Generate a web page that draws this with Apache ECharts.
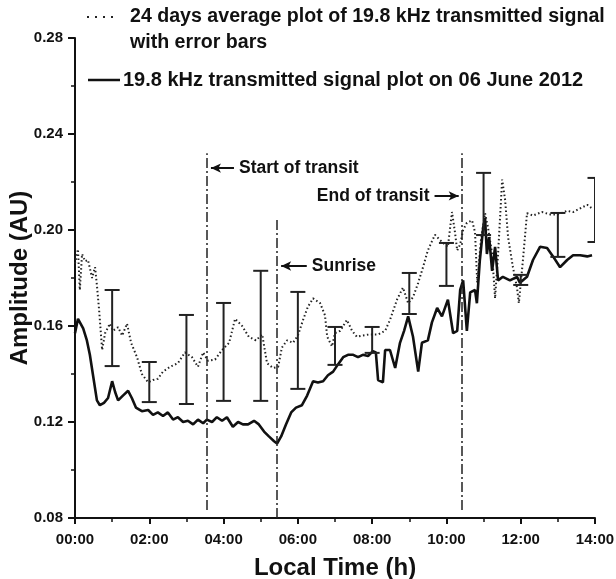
<!DOCTYPE html>
<html>
<head>
<meta charset="utf-8">
<script src="https://cdn.jsdelivr.net/npm/echarts/dist/echarts.min.js"></script>
<style>
html,body{margin:0;padding:0;background:#fff;}
#chart{width:616px;height:579px;}
</style>
</head>
<body>
<div id="chart"></div>
<script>
// 19.8 kHz transmitted signal on 06 June 2012 (solid line)
const dayTime = [0.00,0.08,0.22,0.32,0.40,0.48,0.59,0.67,0.78,0.89,
  1.00,1.08,1.16,1.29,1.43,1.53,1.64,1.80,1.97,2.10,
  2.23,2.37,2.50,2.64,2.77,2.91,3.04,3.18,3.31,3.45,
  3.55,3.69,3.82,3.96,4.09,4.25,4.39,4.52,4.66,4.82,
  4.95,5.09,5.22,5.36,5.44,5.55,5.68,5.82,5.95,6.11,
  6.25,6.41,6.54,6.68,6.81,6.95,7.08,7.22,7.35,7.49,
  7.62,7.75,7.89,8.02,8.10,8.16,8.29,8.35,8.48,8.62,
  8.75,8.86,8.97,9.10,9.24,9.34,9.50,9.61,9.75,9.88,
  10.04,10.18,10.29,10.37,10.45,10.55,10.64,10.77,10.82,10.90,
  10.99,11.04,11.09,11.15,11.23,11.31,11.39,11.52,11.71,11.90,
  11.98,12.17,12.33,12.52,12.71,12.87,13.06,13.25,13.41,13.60,
  13.79,13.92];
const dayValue = [0.157,0.163,0.159,0.154,0.148,0.140,0.129,0.127,0.128,0.130,
  0.137,0.1325,0.129,0.131,0.133,0.130,0.126,0.1245,0.125,0.123,
  0.124,0.1225,0.124,0.121,0.122,0.120,0.1205,0.119,0.121,0.1195,
  0.121,0.120,0.122,0.1205,0.122,0.118,0.120,0.119,0.119,0.1205,
  0.119,0.116,0.114,0.112,0.111,0.114,0.119,0.124,0.126,0.127,
  0.131,0.137,0.1365,0.137,0.1395,0.141,0.144,0.147,0.148,0.148,
  0.147,0.148,0.1475,0.1495,0.149,0.1375,0.1365,0.150,0.150,0.1425,
  0.153,0.158,0.164,0.1555,0.141,0.153,0.154,0.1615,0.1675,0.164,
  0.171,0.157,0.158,0.175,0.179,0.158,0.174,0.175,0.1695,0.1875,
  0.201,0.205,0.190,0.197,0.183,0.193,0.179,0.1805,0.179,0.1805,
  0.178,0.1805,0.1875,0.193,0.1925,0.189,0.1845,0.1875,0.1895,0.1895,
  0.189,0.1895];

// 24 days average (dotted line)
const avgTime = [0.00,0.08,0.13,0.19,0.27,0.35,0.46,0.54,0.59,0.65,
  0.73,0.81,0.94,1.02,1.16,1.27,1.40,1.51,1.67,1.80,
  1.97,2.10,2.23,2.37,2.56,2.77,2.96,3.15,3.31,3.45,
  3.58,3.77,3.96,4.15,4.31,4.50,4.68,4.87,5.04,5.17,
  5.33,5.47,5.57,5.71,5.87,6.00,6.14,6.27,6.41,6.60,
  6.73,6.79,6.92,7.00,7.14,7.32,7.46,7.59,7.73,7.94,
  8.16,8.35,8.48,8.67,8.83,8.97,9.10,9.24,9.37,9.50,
  9.69,9.88,10.04,10.15,10.23,10.29,10.37,10.45,10.55,10.69,
  10.77,10.83,10.93,11.04,11.12,11.23,11.31,11.39,11.50,11.58,
  11.66,11.79,11.90,11.95,12.06,12.17,12.33,12.57,12.79,13.00,
  13.25,13.41,13.60,13.79,13.92];
const avgValue = [0.186,0.192,0.175,0.190,0.187,0.1875,0.180,0.1845,0.177,0.1665,
  0.150,0.157,0.161,0.158,0.1595,0.156,0.161,0.153,0.147,0.140,
  0.1365,0.1375,0.138,0.141,0.143,0.1445,0.149,0.147,0.143,0.149,
  0.1455,0.146,0.150,0.153,0.163,0.160,0.1555,0.154,0.1565,0.1445,
  0.1425,0.143,0.151,0.154,0.153,0.156,0.1625,0.168,0.1715,0.1695,
  0.1645,0.1555,0.1515,0.157,0.158,0.1625,0.158,0.1555,0.156,0.1565,
  0.1565,0.158,0.1625,0.171,0.176,0.1695,0.172,0.178,0.1845,0.1915,
  0.198,0.195,0.193,0.2075,0.199,0.1915,0.194,0.200,0.203,0.204,
  0.199,0.178,0.196,0.207,0.201,0.190,0.1715,0.190,0.221,0.2125,
  0.197,0.1845,0.176,0.1695,0.1875,0.207,0.206,0.2075,0.2065,0.2065,
  0.208,0.2075,0.209,0.2105,0.209];

// error bars of the 24 days average
const errTime = [1,2,3,4,5,6,7,8,9,10,11,12,13,14];
const errLow  = [0.1433,0.1283,0.1275,0.1288,0.1288,0.1338,0.1438,0.1488,0.165,0.1767,0.1979,0.1771,0.1888,0.195];
const errHigh = [0.175,0.145,0.1646,0.1696,0.183,0.1742,0.1596,0.1596,0.1821,0.1946,0.2238,0.1813,0.2071,0.2217];

// events (hours)
const eventTime = [3.55, 5.44, 10.42];
const eventLabel = ['Start of transit', 'Sunrise', 'End of transit'];

// axis ticks
const yMin = 0.08, yMax = 0.28, yStep = 0.04;
const xMin = 0, xMax = 14, xStep = 2;

const legendTexts = [
  '24 days average plot of 19.8 kHz transmitted signal',
  'with error bars',
  '19.8 kHz transmitted signal plot on 06 June 2012'
];

const FONT = '"Liberation Sans", Arial, Helvetica, sans-serif';
const INK = '#111';

const chart = echarts.init(document.getElementById('chart'), null, {renderer: 'canvas'});

const annLabel = (text, pos) => ({
  show: true, position: pos, formatter: text, distance: 5,
  fontFamily: FONT, fontSize: 17.5, fontWeight: 'bold', color: INK
});
const vStyle = {color: '#222', width: 1.5, type: [10, 3, 2, 3]};
const aStyle = {color: INK, width: 2, type: 'solid'};

const option = {
  animation: false,
  backgroundColor: '#fff',
  textStyle: {fontFamily: FONT},
  grid: {left: 75, right: 21, top: 38, bottom: 61, containLabel: false, outerBoundsMode: 'none'},
  xAxis: {
    type: 'value', min: xMin, max: xMax, interval: xStep,
    name: 'Local Time (h)', nameLocation: 'middle', nameGap: 38, nameMoveOverlap: false,
    nameTextStyle: {fontFamily: FONT, fontSize: 24, fontWeight: 'bold', color: INK},
    axisLine: {show: true, onZero: false, lineStyle: {color: INK, width: 2}},
    axisTick: {show: true, length: 6, lineStyle: {color: INK, width: 2}},
    minorTick: {show: true, splitNumber: 2, length: 4, lineStyle: {color: INK, width: 1.5}},
    splitLine: {show: false},
    axisLabel: {
      formatter: v => String(Math.round(v)).padStart(2, '0') + ':00',
      fontFamily: FONT, fontSize: 15, fontWeight: 'bold', color: INK, margin: 14
    }
  },
  yAxis: {
    type: 'value', min: yMin, max: yMax, interval: yStep,
    name: 'Amplitude (AU)', nameLocation: 'middle', nameGap: 43, nameMoveOverlap: false,
    nameTextStyle: {fontFamily: FONT, fontSize: 24, fontWeight: 'bold', color: INK},
    axisLine: {show: true, onZero: false, lineStyle: {color: INK, width: 2}},
    axisTick: {show: true, length: 7, lineStyle: {color: INK, width: 2}},
    minorTick: {show: true, splitNumber: 2, length: 4, lineStyle: {color: INK, width: 1.5}},
    splitLine: {show: false},
    axisLabel: {
      formatter: v => v.toFixed(2),
      fontFamily: FONT, fontSize: 15, fontWeight: 'bold', color: INK, margin: 12
    }
  },
  graphic: [
    {type: 'line', shape: {x1: 87, y1: 17, x2: 117, y2: 17},
     style: {stroke: '#222', lineWidth: 2, lineDash: [2, 6]}},
    {type: 'text', x: 130, y: 17, style: {text: legendTexts[0], font: 'bold 19.6px ' + FONT, fill: INK, textVerticalAlign: 'middle', verticalAlign: 'middle'}},
    {type: 'text', x: 130, y: 43, style: {text: legendTexts[1], font: 'bold 19.6px ' + FONT, fill: INK, textVerticalAlign: 'middle', verticalAlign: 'middle'}},
    {type: 'line', shape: {x1: 88, y1: 80, x2: 120, y2: 80},
     style: {stroke: INK, lineWidth: 2.5}},
    {type: 'text', x: 123, y: 80, style: {text: legendTexts[2], font: 'bold 20px ' + FONT, fill: INK, textVerticalAlign: 'middle', verticalAlign: 'middle'}}
  ],
  series: [
    {
      name: legendTexts[0] + ' ' + legendTexts[1],
      type: 'line',
      data: avgTime.map((t, i) => [t, avgValue[i]]),
      showSymbol: false,
      lineStyle: {color: '#222', width: 2, type: [1.5, 2.5]},
      z: 2
    },
    {
      name: legendTexts[2],
      type: 'line',
      data: dayTime.map((t, i) => [t, dayValue[i]]),
      showSymbol: false,
      lineStyle: {color: INK, width: 2.6},
      z: 3,
      markLine: {
        silent: true,
        symbol: ['none', 'none'],
        animation: false,
        data: [
          [{coord: [eventTime[0], 0.0833], lineStyle: vStyle, label: {show: false}}, {coord: [eventTime[0], 0.232]}],
          [{coord: [eventTime[1], 0.08], lineStyle: vStyle, label: {show: false}}, {coord: [eventTime[1], 0.2046]}],
          [{coord: [eventTime[2], 0.0833], lineStyle: vStyle, label: {show: false}}, {coord: [eventTime[2], 0.232]}],
          [{coord: [eventTime[0] + 0.11, 0.2258], symbol: 'arrow', symbolSize: [7, 10], lineStyle: aStyle, label: annLabel(eventLabel[0], 'end')},
           {coord: [eventTime[0] + 0.73, 0.2258], symbol: 'none'}],
          [{coord: [eventTime[1] + 0.11, 0.185], symbol: 'arrow', symbolSize: [7, 10], lineStyle: aStyle, label: annLabel(eventLabel[1], 'end')},
           {coord: [eventTime[1] + 0.80, 0.185], symbol: 'none'}],
          [{coord: [eventTime[2] - 0.74, 0.2142], symbol: 'none', lineStyle: aStyle, label: annLabel(eventLabel[2], 'start')},
           {coord: [eventTime[2] - 0.09, 0.2142], symbol: 'arrow', symbolSize: [7, 10]}]
        ]
      }
    },
    {
      name: 'error',
      type: 'custom',
      clip: true,
      z: 4,
      data: errTime.map((t, i) => [t, errLow[i], errHigh[i]]),
      encode: {x: 0, y: [1, 2]},
      renderItem: function (params, api) {
        const x = api.value(0), lo = api.value(1), hi = api.value(2);
        const pl = api.coord([x, lo]);
        const ph = api.coord([x, hi]);
        const w = 7.5;
        const style = {stroke: '#222', lineWidth: 2, fill: null};
        return {
          type: 'group',
          children: [
            {type: 'line', shape: {x1: pl[0], y1: pl[1], x2: ph[0], y2: ph[1]}, style: style},
            {type: 'line', shape: {x1: pl[0] - w, y1: pl[1], x2: pl[0] + w, y2: pl[1]}, style: style},
            {type: 'line', shape: {x1: ph[0] - w, y1: ph[1], x2: ph[0] + w, y2: ph[1]}, style: style}
          ]
        };
      }
    }
  ]
};
chart.setOption(option);
</script>
</body>
</html>
